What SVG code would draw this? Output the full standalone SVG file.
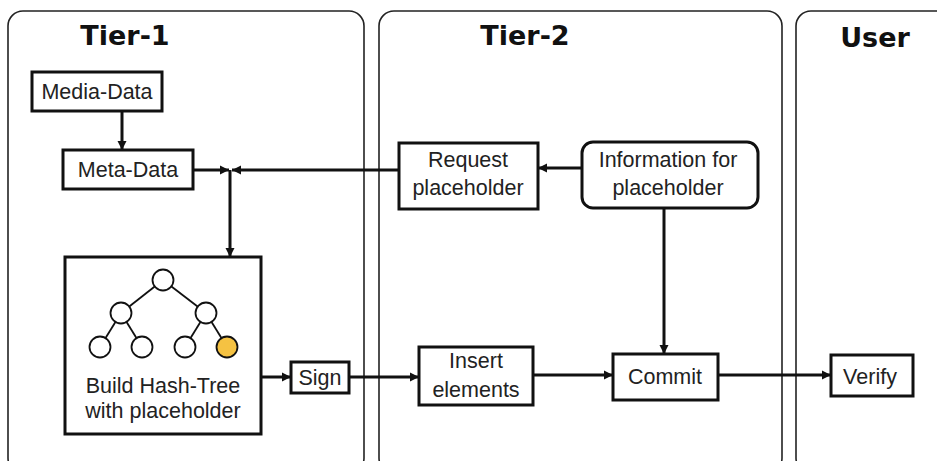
<svg xmlns="http://www.w3.org/2000/svg" width="937" height="461" viewBox="0 0 937 461">
<style>
.panel{fill:#fff;stroke:#222;stroke-width:1.6}
.title{font-family:"DejaVu Sans",sans-serif;font-weight:bold;font-size:27px;fill:#111;text-anchor:middle}
.box{fill:#fff;stroke:#111;stroke-width:3}
.lbl{font-family:"Liberation Sans",Arial,sans-serif;font-size:21.5px;fill:#222;text-anchor:middle}
.conn{fill:none;stroke:#111;stroke-width:3}
.node{fill:#fff;stroke:#111;stroke-width:1.8}
.edge{stroke:#111;stroke-width:1.8}
</style>
<defs>
<marker id="ah" viewBox="0 0 10 10" refX="10" refY="5" markerWidth="9" markerHeight="11" markerUnits="userSpaceOnUse" orient="auto">
<path d="M0,0 L10,5 L0,10 z" fill="#111"/>
</marker>
</defs>
<rect width="937" height="461" fill="#fff"/>
<g id="lanes">
<rect class="panel" x="8" y="11" width="356" height="462" rx="15"/>
<rect class="panel" x="379" y="11" width="403" height="462" rx="15"/>
<rect class="panel" x="796" y="11" width="160" height="462" rx="15"/>
<text class="title" x="125" y="45">Tier-1</text>
<text class="title" x="525" y="45">Tier-2</text>
<text class="title" x="875" y="47">User</text>
</g>
<g id="connectors">
<line class="conn" x1="122" y1="111" x2="122" y2="150" marker-end="url(#ah)"/>
<line class="conn" x1="193" y1="170" x2="229" y2="170" marker-end="url(#ah)"/>
<line class="conn" x1="399" y1="170" x2="232" y2="170" marker-end="url(#ah)"/>
<line class="conn" x1="230" y1="170" x2="230" y2="257" marker-end="url(#ah)"/>
<line class="conn" x1="582" y1="168" x2="538" y2="168" marker-end="url(#ah)"/>
<line class="conn" x1="664" y1="208" x2="664" y2="354" marker-end="url(#ah)"/>
<line class="conn" x1="261" y1="377" x2="291" y2="377" marker-end="url(#ah)"/>
<line class="conn" x1="349" y1="377" x2="419" y2="377" marker-end="url(#ah)"/>
<line class="conn" x1="533" y1="375" x2="613" y2="375" marker-end="url(#ah)"/>
<line class="conn" x1="718" y1="375" x2="831" y2="375" marker-end="url(#ah)"/>
</g>
<g id="media-data">
<rect class="box" x="32" y="72" width="130" height="39"/>
<text class="lbl" x="97" y="99">Media-Data</text>
</g>
<g id="meta-data">
<rect class="box" x="63" y="150" width="130" height="39"/>
<text class="lbl" x="128" y="177">Meta-Data</text>
</g>
<g id="hash-tree">
<rect class="box" x="65" y="257" width="196" height="177"/>
<line class="edge" x1="163" y1="280" x2="121" y2="313"/>
<line class="edge" x1="163" y1="280" x2="206" y2="313"/>
<line class="edge" x1="121" y1="313" x2="100" y2="347"/>
<line class="edge" x1="121" y1="313" x2="142" y2="347"/>
<line class="edge" x1="206" y1="313" x2="185" y2="347"/>
<line class="edge" x1="206" y1="313" x2="227" y2="347"/>
<circle class="node" cx="163" cy="280" r="10.5"/>
<circle class="node" cx="121" cy="313" r="10.5"/>
<circle class="node" cx="206" cy="313" r="10.5"/>
<circle class="node" cx="100" cy="347" r="10.5"/>
<circle class="node" cx="142" cy="347" r="10.5"/>
<circle class="node" cx="185" cy="347" r="10.5"/>
<circle class="node" cx="227" cy="347" r="10.5" style="fill:#F5C242"/>
<text class="lbl" x="163" y="393">Build Hash-Tree</text>
<text class="lbl" x="163" y="418">with placeholder</text>
</g>
<g id="sign">
<rect class="box" x="291" y="362" width="58" height="31"/>
<text class="lbl" x="320" y="385">Sign</text>
</g>
<g id="request-placeholder">
<rect class="box" x="399" y="143" width="139" height="66"/>
<text class="lbl" x="468" y="167">Request</text>
<text class="lbl" x="468" y="195">placeholder</text>
</g>
<g id="information-for-placeholder">
<rect class="box" x="582" y="142" width="176" height="66" rx="11"/>
<text class="lbl" x="668" y="167">Information for</text>
<text class="lbl" x="668" y="195">placeholder</text>
</g>
<g id="insert-elements">
<rect class="box" x="419" y="347" width="114" height="58"/>
<text class="lbl" x="476" y="368">Insert</text>
<text class="lbl" x="476" y="397">elements</text>
</g>
<g id="commit">
<rect class="box" x="613" y="354" width="105" height="46"/>
<text class="lbl" x="665" y="384">Commit</text>
</g>
<g id="verify">
<rect class="box" x="831" y="355" width="82" height="41"/>
<text class="lbl" x="870" y="384">Verify</text>
</g>
</svg>
